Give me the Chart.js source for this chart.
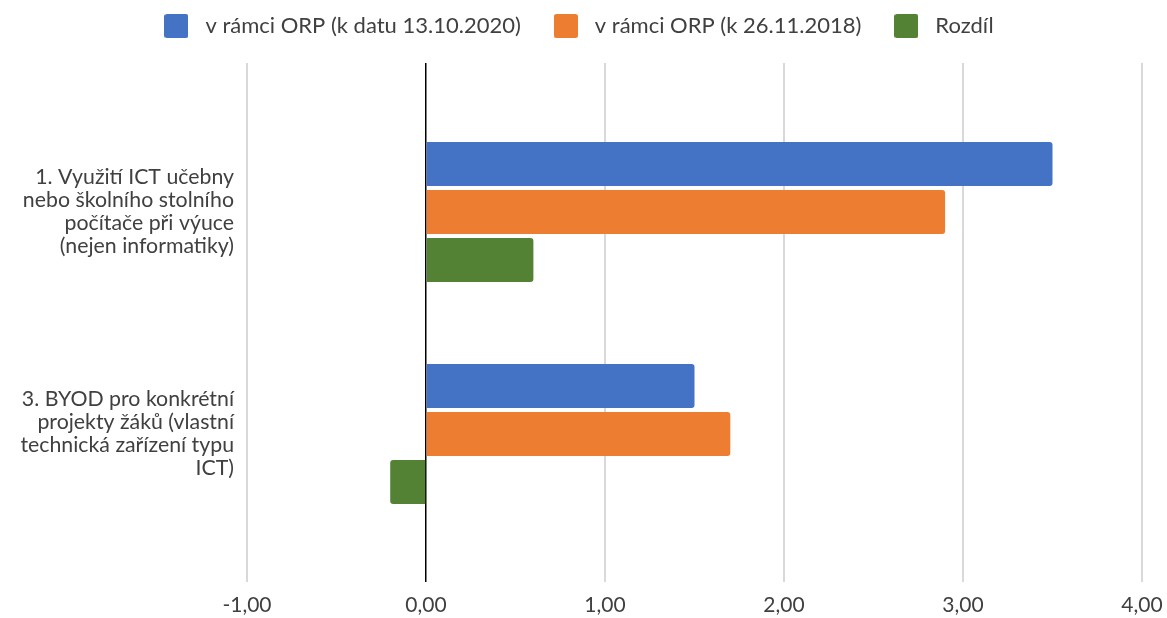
<!DOCTYPE html>
<html><head><meta charset="utf-8">
<script src="https://cdn.jsdelivr.net/npm/chart.js@4/dist/chart.umd.min.js"></script>
<style>html,body{margin:0;padding:0;background:#fff;}#wrap{width:1167px;height:618px;position:relative}</style>
</head><body><div id="wrap"><canvas id="c" width="1167" height="618"></canvas></div>
<script>
const categories = [
  ["1. Využití ICT učebny", "nebo školního stolního", "počítače při výuce", "(nejen informatiky)"],
  ["3. BYOD pro konkrétní", "projekty žáků (vlastní", "technická zařízení typu", "ICT)"]
];
const seriesNames = ["v rámci ORP (k datu 13.10.2020)", "v rámci ORP (k 26.11.2018)", "Rozdíl"];
const values2020 = [3.5, 1.5];
const values2018 = [2.9, 1.7];
const valuesDiff = [0.6, -0.2];
const xTicks = [-1, 0, 1, 2, 3, 4];
const colors = ["#4472C4", "#ED7D31", "#548235"];

const FONT = "Lato";
const TXT = "#404040";

function boxImg(color) {
  const c = document.createElement('canvas');
  c.width = 24; c.height = 24;
  const g = c.getContext('2d');
  g.fillStyle = color;
  g.beginPath();
  g.roundRect(0, 0, 24, 24, 2.5);
  g.fill();
  return c;
}
const imgs = colors.map(boxImg);

const LAYOUT_TOP = -12;
const AREA_TOP = 63;
const AREA_BOTTOM = 582;
const CANVAS_H = 618;

const legendHeightPlugin = {
  id: 'legendHeight',
  afterInit(chart) {
    const lg = chart.legend;
    if (!lg) return;
    const orig = lg.fit;
    lg.fit = function () { orig.call(this); this.height = AREA_TOP - LAYOUT_TOP; };
  }
};

const seriesVals = [values2020, values2018, valuesDiff];
const datasets = seriesNames.map((n, si) => ({
  label: n,
  data: seriesVals[si].map((v, i) => ({x: v, y: i})),
  backgroundColor: colors[si],
  borderRadius: 3,
  borderSkipped: 'start',
  categoryPercentage: 144/222,
  barPercentage: 44/48
}));

new Chart(document.getElementById('c'), {
  type: 'bar',
  data: { datasets },
  plugins: [legendHeightPlugin],
  options: {
    indexAxis: 'y',
    responsive: false,
    animation: false,
    layout: { padding: { left: 10, right: 25, top: LAYOUT_TOP, bottom: 0 } },
    plugins: {
      tooltip: { enabled: false },
      legend: {
        position: 'top',
        labels: {
          usePointStyle: true,
          pointStyleWidth: 36,
          padding: 27,
          color: TXT,
          font: { family: FONT, size: 22 },
          generateLabels: (chart) => Chart.defaults.plugins.legend.labels.generateLabels(chart).map((l, i) => Object.assign(l, { pointStyle: imgs[i] }))
        }
      }
    },
    scales: {
      x: {
        type: 'linear',
        min: xTicks[0], max: xTicks[xTicks.length - 1],
        afterBuildTicks: (s) => { s.ticks = xTicks.map(v => ({ value: v })); },
        afterFit: (s) => { s.paddingLeft = 0; s.paddingRight = 0; s.height = CANVAS_H - AREA_BOTTOM; },
        border: { display: false },
        grid: {
          drawTicks: false,
          color: (ctx) => ctx.tick && ctx.tick.value === 0 ? '#000000' : '#D9D9D9',
          lineWidth: (ctx) => ctx.tick && ctx.tick.value === 0 ? 1.5 : 2
        },
        ticks: {
          padding: 11,
          color: TXT,
          font: { family: FONT, size: 21, lineHeight: 1.2 },
          callback: (v) => v.toFixed(2).replace('.', ',')
        }
      },
      y: {
        type: 'linear',
        reverse: true,
        offset: false,
        min: -0.671, max: 1.667,
        afterBuildTicks: (s) => { s.ticks = categories.map((c, i) => ({ value: i })); },
        afterFit: (s) => { s.width = 237; s.paddingTop = 0; s.paddingBottom = 0; },
        border: { display: false },
        grid: { display: false, drawTicks: false },
        ticks: {
          padding: 13,
          color: TXT,
          font: { family: FONT, size: 21.3, lineHeight: 23/21.3 },
          callback: (v) => categories[v]
        }
      }
    }
  }
});
</script></body></html>
